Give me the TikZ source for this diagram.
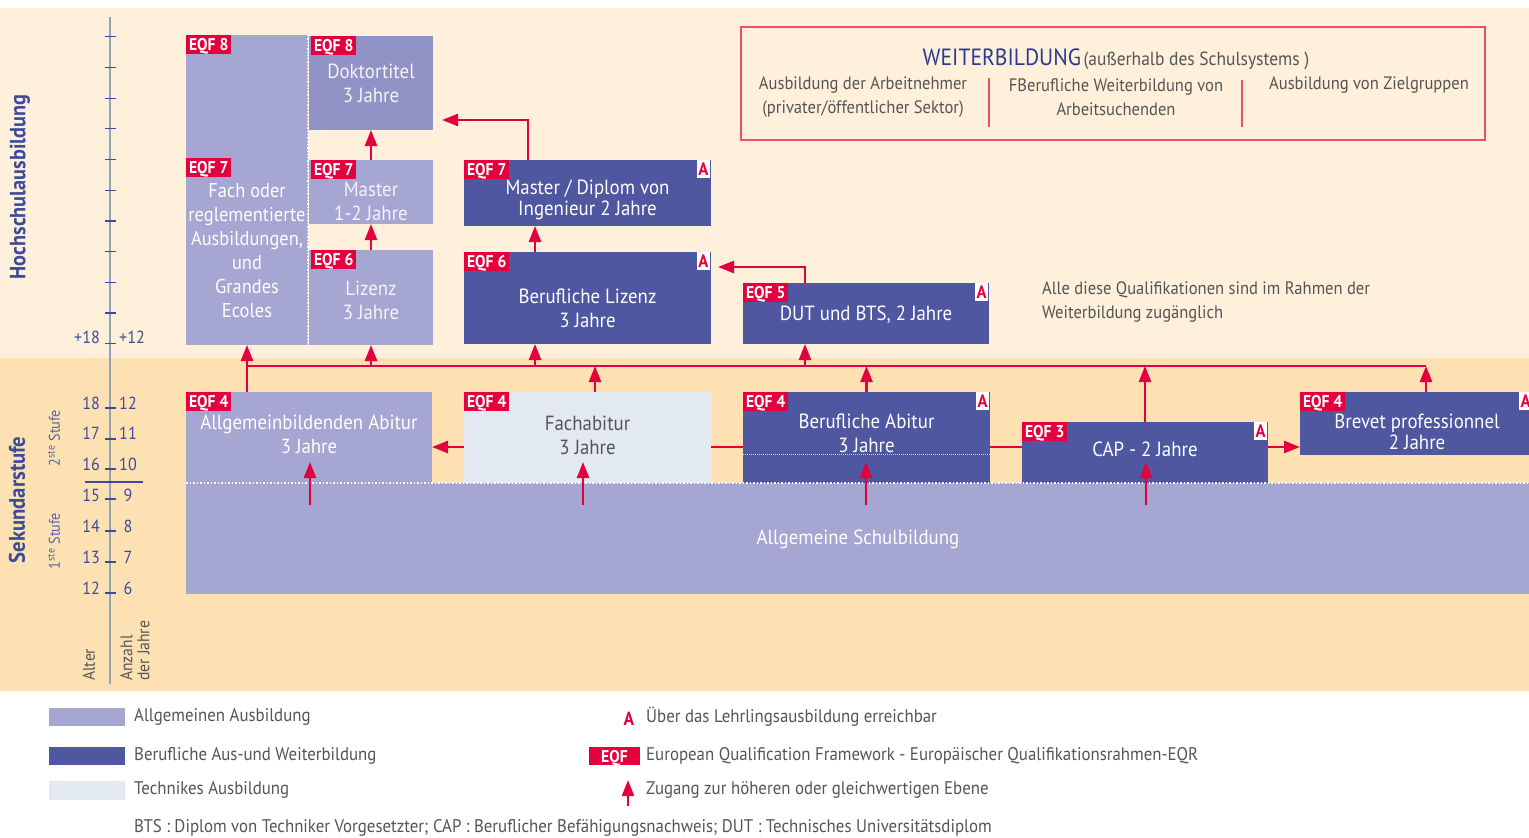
\documentclass[tikz,border=0pt]{standalone}
\usepackage{fontspec}
\setmainfont{PT Sans}[FakeStretch=0.92]
\usetikzlibrary{arrows.meta}
\definecolor{bgtop}{HTML}{FEF0DA}
\definecolor{bglow}{HTML}{FDE1B3}
\definecolor{lpur}{HTML}{A5A6D2}
\definecolor{dpur}{HTML}{9192C5}
\definecolor{dkblue}{HTML}{4E57A0}
\definecolor{ltech}{HTML}{E3E9F0}
\definecolor{eqfred}{HTML}{E4003F}
\definecolor{frame}{HTML}{E8506E}
\definecolor{axisc}{HTML}{8FA4B8}
\definecolor{bluetxt}{HTML}{3B4A9A}
\definecolor{titleblue}{HTML}{2B3990}
\definecolor{greytxt}{HTML}{555555}
\begin{document}
\begin{tikzpicture}[x=1pt,y=-1pt,
  box/.style={inner sep=0pt, outer sep=0pt, draw=none},
  lp/.style={box, fill=lpur},
  dp/.style={box, fill=dpur},
  dk/.style={box, fill=dkblue},
  tk/.style={box, fill=ltech},
  eqf/.style={fill=eqfred, text=white, font=\bfseries\fontsize{17}{17}\selectfont, inner xsep=3pt, inner ysep=0pt, minimum height=18.5pt, text height=12pt, text depth=0pt, anchor=north west, outer sep=0pt},
  amark/.style={fill=white, text=eqfred, font=\bfseries\fontsize{18}{18}\selectfont, inner sep=0pt, minimum width=13pt, minimum height=18pt, anchor=north east, outer sep=0pt},
  btxt/.style={align=center, font=\fontsize{20.5}{24}\selectfont, text=white, inner sep=0pt},
  rtxt/.style={btxt, text=white!88!lpur},
  arr/.style={draw=eqfred, line width=2.5pt, -{Triangle[width=12pt,length=16pt]}},
  ln/.style={draw=eqfred, line width=2.5pt},
  axnum/.style={text=bluetxt, font=\fontsize{17.5}{17.5}\selectfont, inner sep=0pt},
  legtxt/.style={text=greytxt, font=\fontsize{18.3}{20}\selectfont, inner sep=0pt, anchor=west},
  wtxt/.style={text=greytxt, font=\fontsize{18}{24}\selectfont, align=center, inner sep=0pt}
]
\useasboundingbox (0,0) rectangle (1529,838);
\clip (0,0) rectangle (1529,838);
% backgrounds
\fill[white] (0,0) rectangle (1529,838);
\fill[bgtop] (0,8) rectangle (1529,358);
\fill[bglow] (0,358) rectangle (1529,691);

% axis
\draw[axisc, line width=1.5pt] (110,17) -- (110,684);
\foreach \yy in {36.7,67.4,98.1,128.8,159.5,190.2,220.9,251.6,282.3,313,343.7}
  \draw[bluetxt, line width=1.2pt] (105,\yy) -- (116,\yy);
\foreach \yy in {408,439,469,499,531,562,593}
  \draw[bluetxt, line width=1.2pt] (105,\yy) -- (116,\yy);
\draw[bluetxt, line width=1.2pt] (85,482) -- (143,482);
\node[axnum, anchor=east] (p18) at (100,337) {+18};
\node[axnum, anchor=west] (p12) at (119,337) {+12};
\foreach \a/\b/\yy in {18/12/403,17/11/433,16/10/464,15/9/495,14/8/526,13/7/557,12/6/588}{
  \node[axnum, anchor=east] (age\a) at (100,\yy) {\a};
  \node[axnum] (yr\b) at (128,\yy) {\b};
}
\node[rotate=90, text=bluetxt, font=\bfseries\fontsize{22}{22}\selectfont, inner sep=0pt] (hoch) at (20,187) {Hochschulausbildung};
\node[rotate=90, text=bluetxt, font=\bfseries\fontsize{22.5}{22.5}\selectfont, inner sep=0pt] (sek) at (17,500) {Sekundarstufe};
\node[rotate=90, text=bluetxt!85!white, font=\fontsize{15.5}{15.5}\selectfont, inner sep=0pt] (st2) at (54,438) {2\textsuperscript{ste} Stufe};
\node[rotate=90, text=bluetxt!85!white, font=\fontsize{15.5}{15.5}\selectfont, inner sep=0pt] (st1) at (54,541) {1\textsuperscript{ste} Stufe};
\node[rotate=90, anchor=west, text=greytxt, font=\fontsize{17}{17}\selectfont, inner sep=0pt] (alter) at (89,681) {Alter};
\node[rotate=90, anchor=west, align=left, text=greytxt, font=\fontsize{17}{17}\selectfont, inner sep=0pt] (anz) at (135,681) {Anzahl\\der Jahre};

% boxes upper
\node[lp, minimum width=122pt, minimum height=310pt] (fach) at (247,190) {};
\node[dp, minimum width=124pt, minimum height=94pt] (dok) at (371,83) {};
\node[lp, minimum width=124pt, minimum height=64pt] (master) at (371,192) {};
\node[lp, minimum width=124pt, minimum height=95pt] (lizenz) at (371,297.5) {};
\node[dk, minimum width=247pt, minimum height=66pt] (mdip) at (587.5,193) {};
\node[dk, minimum width=247pt, minimum height=92pt] (blizenz) at (587.5,298) {};
\node[dk, minimum width=246pt, minimum height=61pt] (dut) at (866,313.5) {};
% boxes lower
\node[lp, minimum width=1343pt, minimum height=111pt] (schul) at (857.5,538.5) {};
\node[lp, minimum width=246pt, minimum height=91pt] (allg) at (309,437.5) {};
\node[tk, minimum width=247pt, minimum height=91pt] (fachab) at (587.5,437.5) {};
\node[dk, minimum width=247pt, minimum height=91pt] (babi) at (866.5,437.5) {};
\node[dk, minimum width=246pt, minimum height=61pt] (cap) at (1145,452.5) {};
\node[dk, minimum width=232pt, minimum height=63pt] (brevet) at (1416,423.5) {};

% dotted lines
\draw[white, line width=1.3pt, dotted] (fach.north east) -- (fach.south east);
\draw[white, line width=1.5pt, dotted] (schul.north west) -- (schul.north east);
\coordinate (bdot) at (0,454);
\draw[white!70!dkblue, line width=1pt, densely dotted] (babi.west |- bdot) -- (babi.east |- bdot);

% texts in boxes
\node[btxt, font=\fontsize{20}{24}\selectfont] (fach-t) at (247,251) {Fach oder\\reglementierte\\Ausbildungen,\\und\\Grandes\\Ecoles};
\node[rtxt] (dok-t) at (371,83) {Doktortitel\\3 Jahre};
\node[rtxt] (master-t) at (371,201) {Master\\1-2 Jahre};
\node[rtxt] (lizenz-t) at (371,300) {Lizenz\\3 Jahre};
\node[btxt, font=\fontsize{20.5}{21}\selectfont] (mdip-t) at (587.5,199.5) {Master / Diplom von\\Ingenieur 2 Jahre};
\node[btxt] (blizenz-t) at (587.5,308) {Berufliche Lizenz\\3 Jahre};
\node[btxt] (dut-t) at (866,315) {DUT und BTS, 2 Jahre};
\node[btxt] (allg-t) at (309,434) {Allgemeinbildenden Abitur\\3 Jahre};
\node[btxt, text=greytxt] (fachab-t) at (587.5,435) {Fachabitur\\3 Jahre};
\node[btxt] (babi-t) at (866.5,433) {Berufliche Abitur\\3 Jahre};
\node[btxt] (cap-t) at (1145,449) {CAP - 2 Jahre};
\node[btxt, font=\fontsize{20.5}{21}\selectfont] (brevet-t) at (1417,432) {Brevet professionnel\\2 Jahre};
\node[btxt] (schul-t) at (858,539) {Allgemeine Schulbildung};

% EQF labels
\node[eqf] (e8a) at (fach.north west) {EQF 8};
\node[eqf] (e7a) at (186,158) {EQF 7};
\node[eqf] (e8b) at ([xshift=2pt]dok.north west) {EQF 8};
\node[eqf] (e7b) at ([xshift=2pt]master.north west) {EQF 7};
\node[eqf] (e6b) at ([xshift=2pt]lizenz.north west) {EQF 6};
\node[eqf] (e7c) at (mdip.north west) {EQF 7};
\node[eqf] (e6c) at (blizenz.north west) {EQF 6};
\node[eqf] (e5) at (dut.north west) {EQF 5};
\node[eqf] (e4a) at (allg.north west) {EQF 4};
\node[eqf] (e4b) at (fachab.north west) {EQF 4};
\node[eqf] (e4c) at (babi.north west) {EQF 4};
\node[eqf] (e3) at (cap.north west) {EQF 3};
\node[eqf] (e4d) at (brevet.north west) {EQF 4};
% A marks
\node[amark] (a1) at ([xshift=-1pt]mdip.north east) {A};
\node[amark] (a2) at ([xshift=-1pt]blizenz.north east) {A};
\node[amark] (a3) at ([xshift=-1pt]dut.north east) {A};
\node[amark] (a4) at ([xshift=-1pt]babi.north east) {A};
\node[amark] (a5) at ([xshift=-1pt]cap.north east) {A};
\node[amark] (a6) at ([xshift=0pt]brevet.north east) {A};

% connectors
\coordinate (busL) at (247,366);
\coordinate (busR) at (1426,366);
\coordinate (b1) at (371,366);
\coordinate (b2) at (535,366);
\coordinate (b3) at (805,366);
\coordinate (f1) at (595,366);
\draw[ln] (busL) -- (busR);
\draw[arr] (busL |- allg.north) -- (busL |- fach.south);
\draw[arr] (b1) -- (b1 |- lizenz.south);
\draw[arr] (b2) -- (b2 |- blizenz.south);
\draw[arr] (b3) -- (b3 |- dut.south);
\draw[arr] (f1 |- fachab.north) -- (f1);
\draw[arr] (babi.north) -- (babi.north |- busL);
\draw[arr] (cap.north) -- (cap.north |- busL);
\draw[arr] (busR |- brevet.north) -- (busR);

\draw[arr] (lizenz.north) -- (master.south);
\draw[arr] (master.north) -- (dok.south);
\draw[arr] (b2 |- blizenz.north) -- (b2 |- mdip.south);
\coordinate (k1) at (528,120);
\draw[arr, shorten >=9pt] (k1 |- mdip.north) -- (k1) -- (k1 -| dok.east);
\coordinate (k2) at (805,267);
\draw[arr, shorten >=7pt] (k2 |- dut.north) -- (k2) -- (k2 -| blizenz.east);

\coordinate (h) at (0,447);
\draw[ln] (babi.west |- h) -- (fachab.east |- h);
\draw[arr] (fachab.west |- h) -- (allg.east |- h);
\draw[ln] (babi.east |- h) -- (cap.west |- h);
\draw[arr] (cap.east |- h) -- (brevet.west |- h);

\coordinate (tip) at (0,462);
\coordinate (s1) at (310,505);
\coordinate (s2) at (583,505);
\coordinate (s3) at (866,505);
\coordinate (s4) at (1146,505);
\foreach \s in {s1,s2,s3,s4}
  \draw[arr] (\s) -- (\s |- tip);

% Weiterbildung box
\node[draw=frame, line width=1.2pt, minimum width=744pt, minimum height=113pt, inner sep=0pt] (wb) at (1113,83.5) {};
\node[inner sep=0pt, anchor=base] (wb-t) at (1116,65) {\textcolor{titleblue}{\fontsize{23.5}{23.5}\selectfont WEITERBILDUNG} \textcolor{greytxt}{\fontsize{19}{19}\selectfont (außerhalb des Schulsystems )}};
\node[wtxt] (wc1) at (863,97.5) {Ausbildung der Arbeitnehmer\\(privater/öffentlicher Sektor)};
\node[wtxt] (wc2) at (1116,97.5) {FBerufliche Weiterbildung von\\Arbeitsuchenden};
\node[wtxt] (wc3) at (1369,85.5) {Ausbildung von Zielgruppen};
\coordinate (sep1a) at (989,78); \coordinate (sep1b) at (989,127);
\coordinate (sep2a) at (1242,80); \coordinate (sep2b) at (1242,127);
\draw[frame, line width=1.2pt] (sep1a) -- (sep1b);
\draw[frame, line width=1.2pt] (sep2a) -- (sep2b);

\node[wtxt, align=left, anchor=west] (alle) at (1042,302) {Alle diese Qualifikationen sind im Rahmen der\\Weiterbildung zugänglich};

% legend
\node[box, fill=lpur, minimum width=76pt, minimum height=18pt] (lg1) at (87,717) {};
\node[box, fill=dkblue, minimum width=76pt, minimum height=18pt] (lg2) at (87,756) {};
\node[box, fill=ltech, minimum width=76pt, minimum height=19pt] (lg3) at (87,790.5) {};
\node[legtxt] (lg1-t) at (134,717) {Allgemeinen Ausbildung};
\node[legtxt] (lg2-t) at (134,756) {Berufliche Aus-und Weiterbildung};
\node[legtxt] (lg3-t) at (134,790) {Technikes Ausbildung};
\node[text=eqfred, font=\bfseries\fontsize{19}{19}\selectfont, inner sep=0pt] (lgA) at (629,719) {A};
\node[legtxt] (lgA-t) at (646,717) {Über das Lehrlingsausbildung erreichbar};
\node[eqf, anchor=center, minimum width=51pt] (lgE) at (614.5,756) {EQF};
\node[legtxt] (lgE-t) at (646,756) {European Qualification Framework - Europäischer Qualifikationsrahmen-EQR};
\coordinate (la1) at (628,806);
\coordinate (la2) at (628,780);
\draw[arr, line width=2pt] (la1) -- (la2);
\node[legtxt] (lgZ-t) at (646,790) {Zugang zur höheren oder gleichwertigen Ebene};
\node[legtxt] (foot) at (134,828) {BTS : Diplom von Techniker Vorgesetzter; CAP : Beruflicher Befähigungsnachweis; DUT : Technisches Universitätsdiplom};
\end{tikzpicture}
\end{document}
